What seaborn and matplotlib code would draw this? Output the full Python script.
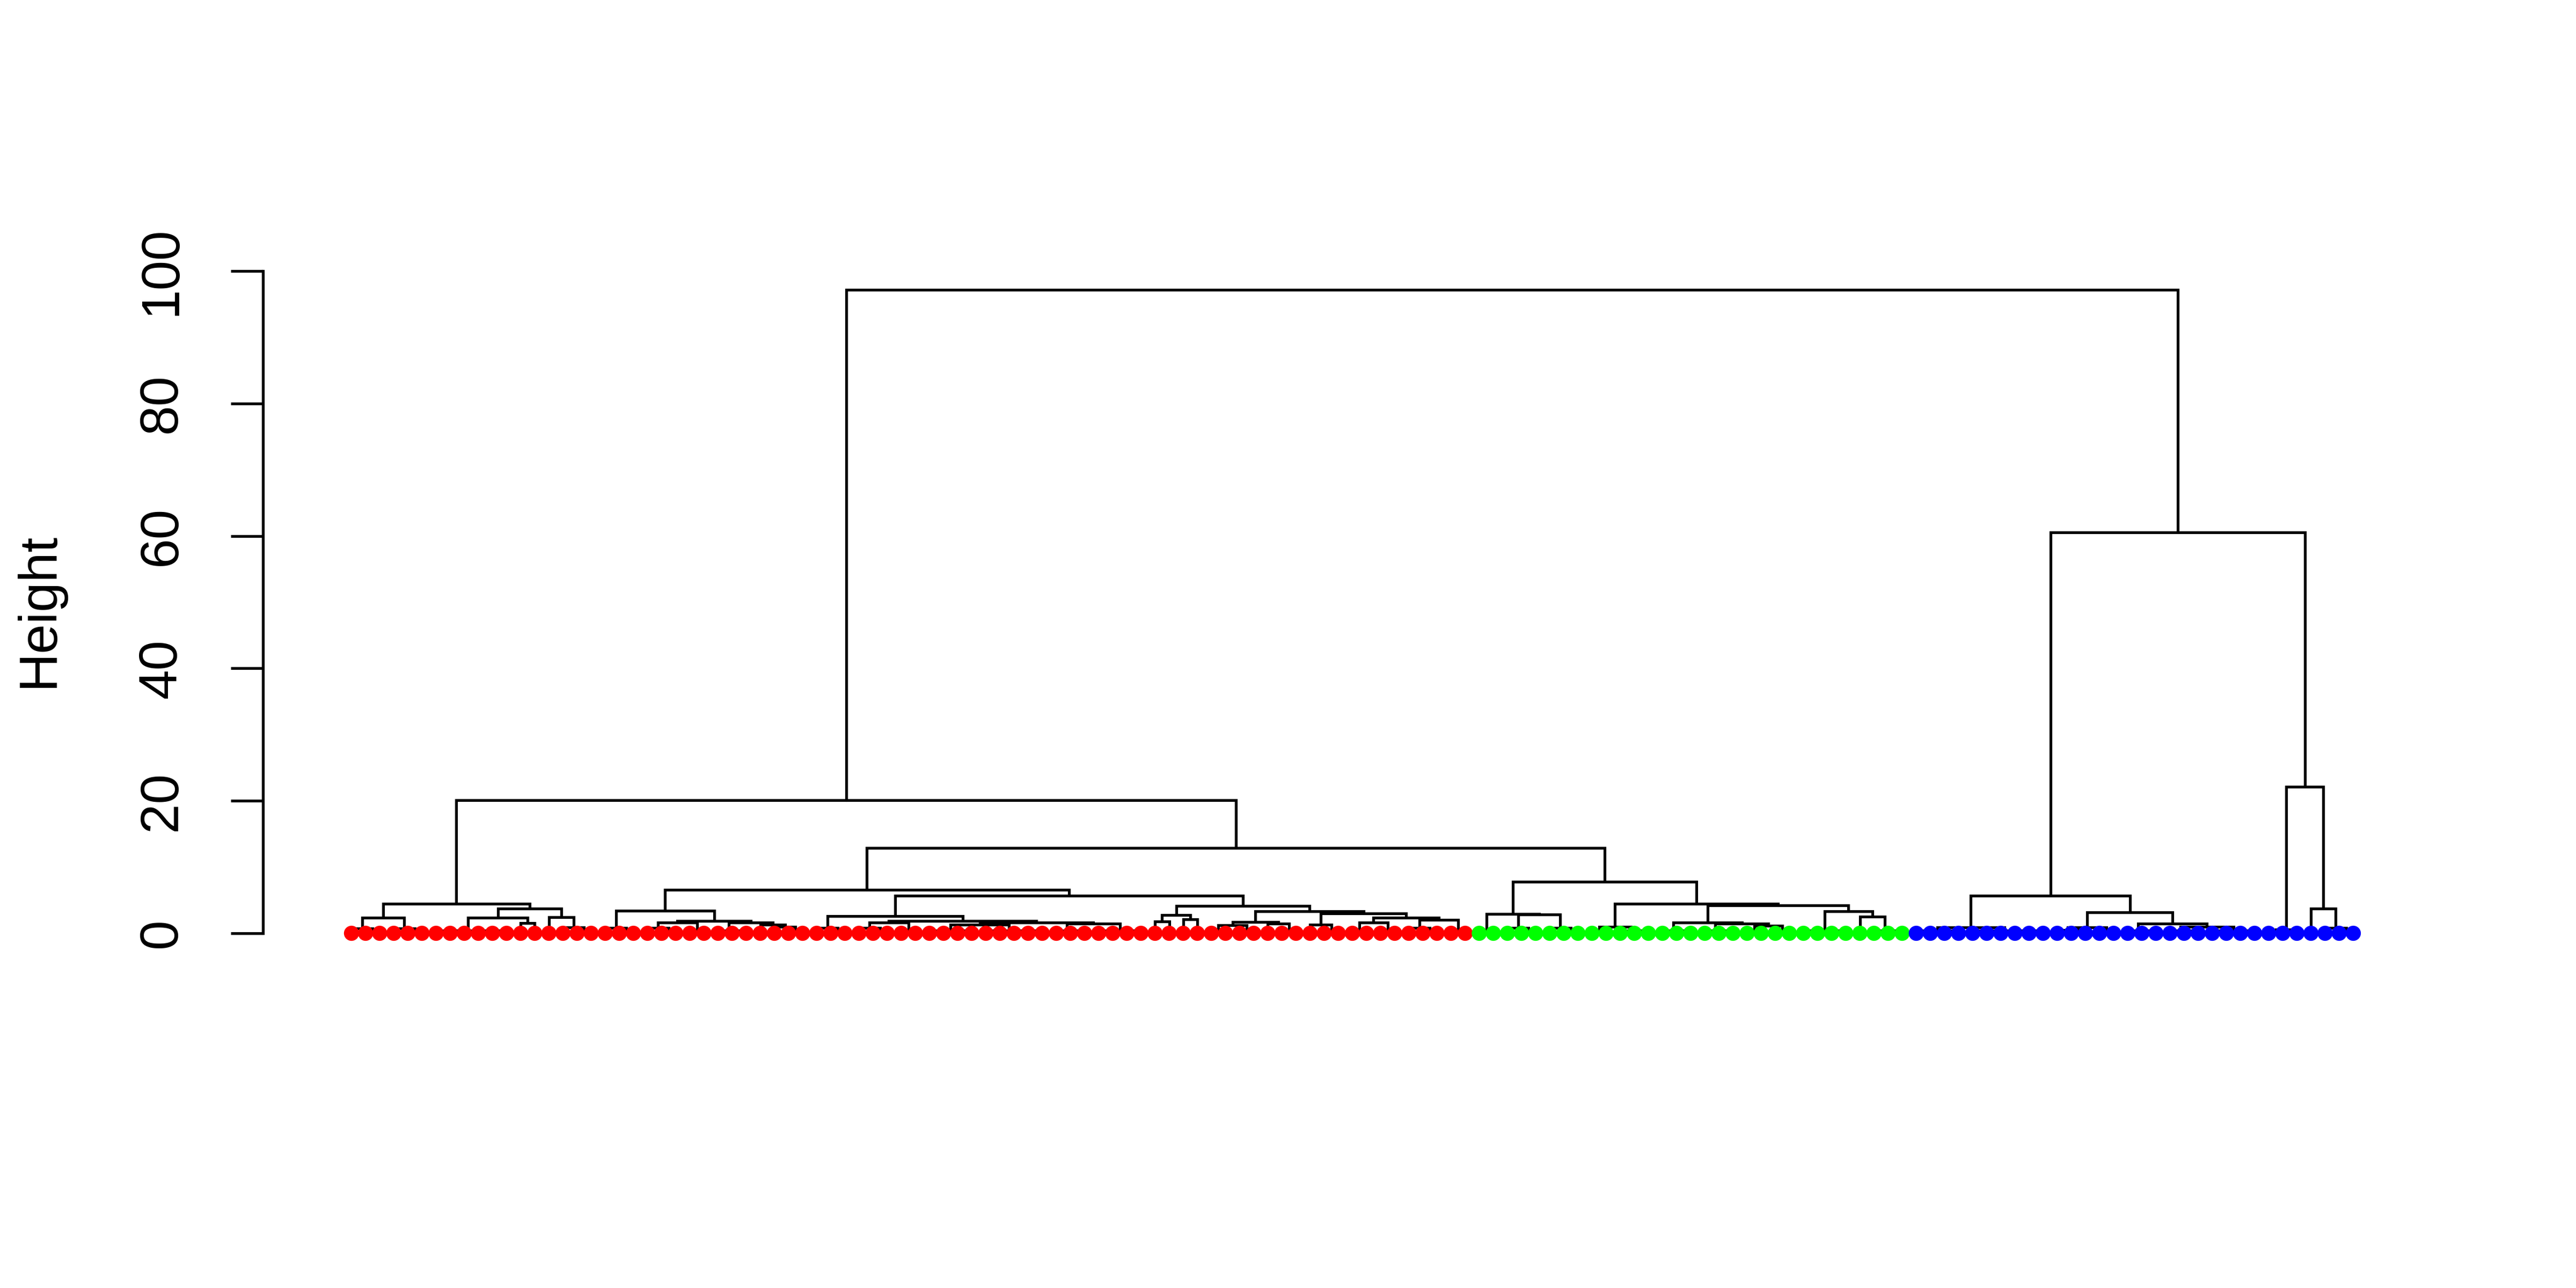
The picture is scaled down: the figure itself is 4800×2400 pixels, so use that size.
import matplotlib
matplotlib.use("Agg")
import matplotlib.pyplot as plt
import seaborn as sns
import pandas as pd

# ---------------- data: dendrogram merges [height, left, right]; int = bundle of leaves merged below dot level
A1 = [4.5,
      [2.35, [0.7, 1, 2], [0.7, 1, 2]],
      [3.7, [2.35, 6, [1.54, 1, 1]], [2.4, 1, [0.9, 1, 2]]]]

A2a_L = [3.43, [0.8, 1, 2],
         [1.9, [1.6, [0.8, 1, 2], 2],
               [1.6, 3, [1.3, 1, [1.0, 1, 2]]]]]

A2a_R = [5.7,
         [2.6, [0.8, 1, 2],
               [1.9, [1.6, [0.8, 1, 2], 2],
                     [1.6, [1.3, 4, 5], [1.45, 3, 4]]]],
         [4.1, [2.75, [1.8, 1, 1], [2.1, 1, 1]],
               [3.3, [1.7, [1.2, 2, 2], [1.5, 1, 2]],
                     [3.0, [1.27, 1, 2],
                           [2.35, [1.6, 2, 2], [2.0, [0.8, 1, 2], 2]]]]]]

A2b = [7.75,
       [2.95, 2, [2.85, [0.8, 1, 2], [0.8, 1, 2]]],
       [4.5, [1.0, 2, 3],
             [4.2, [1.6, 3, [1.45, 3, [1.1, 2, 2]]],
                   [3.3, 4, [2.5, 1, 3]]]]]

B = [60.5,
     [5.7, [0.9, 4, 6],
           [3.15, [0.9, [0.5, 1, 2], 2],
                  [1.5, 3, [1.0, 3, 4]]]],
     [22.1, [0.6, 2, 1], [3.7, 1, [0.8, 1, 2]]]]

root_height = 97.2
A_height = 20.1
A2_height = 12.9
A2a_height = 6.6
bundle_height = 0.4

groups = ["red", "green", "blue"]
group_colors = ["#FF0000", "#00FF00", "#0000FF"]

yticks = [0, 20, 40, 60, 80, 100]
ylabel = "Height"

tree = [root_height,
        [A_height, A1, [A2_height, [A2a_height, A2a_L, A2a_R], A2b]],
        B]


def count(node):
    if isinstance(node, int):
        return node
    return count(node[1]) + count(node[2])


n_red = count(A1) + count(A2a_L) + count(A2a_R)
n_green = count(A2b)
n_blue = count(B)

segments = []
leaf_x = []


def expand(n):
    if n == 1:
        return 1
    return [bundle_height, expand(n // 2), expand(n - n // 2)]


def layout(node):
    if isinstance(node, int):
        if node == 1:
            x = len(leaf_x)
            leaf_x.append(x)
            return x, 0.0
        node = expand(node)
    h, l, r = node
    xl, hl = layout(l)
    xr, hr = layout(r)
    segments.append(([xl, xl, xr, xr], [hl, h, h, hr]))
    return (xl + xr) / 2.0, h


layout(tree)
n = len(leaf_x)
leaf_group = [groups[0]] * n_red + [groups[1]] * n_green + [groups[2]] * n_blue
df = pd.DataFrame({"x": leaf_x, "y": [0.0] * n, "group": leaf_group})

# ---------------- figure
sns.set_style("white")
plt.rcParams["font.family"] = ["Liberation Sans", "DejaVu Sans"]
plt.rcParams["text.color"] = "black"
plt.rcParams["axes.labelcolor"] = "black"
plt.rcParams["ytick.color"] = "black"
plt.rcParams["ytick.labelcolor"] = "black"

fig = plt.figure(figsize=(16, 8), dpi=300)
ax = fig.add_axes([490 / 4800, 1 - 1788.4 / 2400, 4060 / 4800, 1298.2 / 2400])

lw = 1.25
for xs, ys in segments:
    ax.plot(xs, ys, color="black", lw=lw, solid_capstyle="round",
            solid_joinstyle="miter", zorder=2)

sns.scatterplot(data=df, x="x", y="y", hue="group", palette=dict(zip(groups, group_colors)),
                s=46, linewidth=0, legend=False, ax=ax, zorder=3)

pad = (655 - 490) / 26.27
ax.set_xlim(-pad, (n - 1) + pad)
ax.set_ylim(-4, 101.2)

for side in ["top", "right", "bottom"]:
    ax.spines[side].set_visible(False)
ax.spines["left"].set_bounds(0, 100)
ax.spines["left"].set_linewidth(lw)
ax.spines["left"].set_color("black")
ax.set_xticks([])
ax.set_yticks(yticks)
ax.set_yticklabels([str(t) for t in yticks])
ax.tick_params(axis="y", length=14.4, width=lw, color="black", labelcolor="black",
               pad=19.5, labelsize=24, labelrotation=90, left=True)
for t in ax.get_yticklabels():
    t.set_va("center")
    t.set_color("black")
ax.set_xlabel("")
ax.set_ylabel("")
fig.text(73 / 4800, 1 - 1136 / 2400, ylabel, rotation=90, ha="center", va="center",
         fontsize=24, color="black")

fig.savefig("out.png", dpi=300, facecolor="white")
